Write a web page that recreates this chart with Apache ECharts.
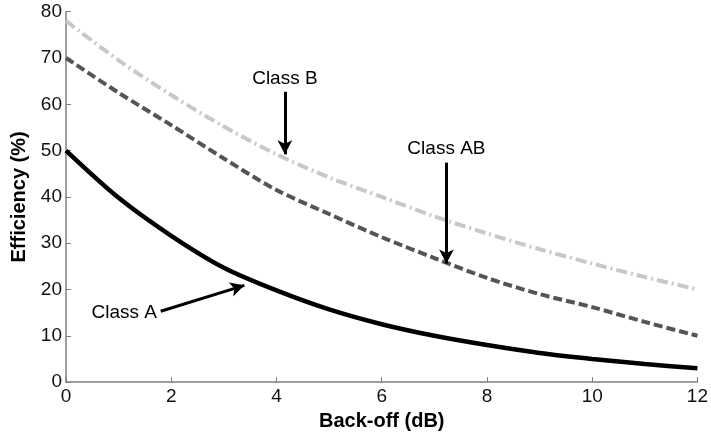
<!DOCTYPE html>
<html>
<head>
<meta charset="utf-8">
<script src="https://cdn.jsdelivr.net/npm/echarts@6/dist/echarts.min.js"></script>
<style>html,body{margin:0;padding:0;background:#fff}#c{width:711px;height:436px}</style>
</head>
<body>
<div id="c"></div>
<script>
// Back-off in dB
var backoff = [0, 1, 2, 3, 4, 5, 6, 7, 8, 9, 10, 11, 12];
// Efficiency (%)
var classA  = [50, 39.8, 31.6, 24.7, 19.8, 15.7, 12.5, 10, 8, 6.3, 5, 3.9, 3.0];
var classAB = [70, 62.5, 55.5, 48.3, 41.5, 36.3, 31.3, 26.8, 22.5, 19, 16.2, 13, 10];
var classB  = [78, 69.5, 62, 55.2, 49.2, 44.2, 40, 35.8, 32.1, 28.7, 25.6, 22.7, 20];
var xTicks = [0, 2, 4, 6, 8, 10, 12];
var yTicks = [0, 10, 20, 30, 40, 50, 60, 70, 80];
// annotation arrows: label, start [dB, %], tip [dB, %]
var annotations = [
  {name: 'Class B',  from: [4.16, 62.7], to: [4.16, 49.2]},
  {name: 'Class AB', from: [7.23, 47.4], to: [7.23, 25.6]},
  {name: 'Class A',  from: [1.80, 15.3], to: [3.39, 20.9]}
];

function pairs(ys) { return backoff.map(function (x, i) { return [x, ys[i]]; }); }

var font = 'Liberation Sans, Arial, sans-serif';
var chart = echarts.init(document.getElementById('c'));
chart.setOption({
  animation: false,
  grid: {left: 66, right: 11, top: 11.7, bottom: 52.7, containLabel: false},
  xAxis: {
    type: 'value', min: 0, max: 12, interval: 2,
    name: 'Back-off (dB)', nameLocation: 'middle', nameGap: 21,
    nameTextStyle: {fontFamily: font, fontSize: 20, fontWeight: 'bold', color: '#000'},
    axisLine: {show: true, lineStyle: {color: '#808080', width: 1.5}},
    axisTick: {show: true, inside: true, length: 5, lineStyle: {color: '#808080'}},
    axisLabel: {fontFamily: font, fontSize: 19, color: '#111', margin: 5,
      formatter: function (v) { return xTicks.indexOf(v) >= 0 ? String(v) : ''; }},
    splitLine: {show: false}
  },
  yAxis: {
    type: 'value', min: 0, max: 80, interval: 10,
    name: 'Efficiency (%)', nameLocation: 'middle', nameGap: 34, nameRotate: 90,
    nameTextStyle: {fontFamily: font, fontSize: 20, fontWeight: 'bold', color: '#000'},
    axisLine: {show: true, lineStyle: {color: '#808080', width: 1.5}},
    axisTick: {show: true, inside: true, length: 5, lineStyle: {color: '#808080'}},
    axisLabel: {fontFamily: font, fontSize: 19, color: '#111', margin: 4,
      formatter: function (v) { return yTicks.indexOf(v) >= 0 ? String(v) : ''; }},
    splitLine: {show: false}
  },
  series: [
    {name: 'Class B', type: 'line', data: pairs(classB), smooth: 0.3, symbol: 'none',
     lineStyle: {color: '#c8c8c8', width: 4, type: [11, 4, 2, 4]}},
    {name: 'Class AB', type: 'line', data: pairs(classAB), smooth: 0.3, symbol: 'none',
     lineStyle: {color: '#555555', width: 4, type: [9, 4]}},
    {name: 'Class A', type: 'line', data: pairs(classA), smooth: 0.3, symbol: 'none',
     lineStyle: {color: '#000000', width: 4.5},
     markLine: {
       silent: true, animation: false,
       symbol: ['none', 'arrow'], symbolSize: [11, 14],
       lineStyle: {color: '#000', width: 3, type: 'solid'},
       label: {show: true, position: 'start', distance: 4, fontFamily: font, fontSize: 19, color: '#000',
         formatter: function (p) { return p.name; }},
       data: annotations.map(function (a) {
         return [{name: a.name, coord: a.from}, {coord: a.to}];
       })
     }}
  ]
});
</script>
</body>
</html>
